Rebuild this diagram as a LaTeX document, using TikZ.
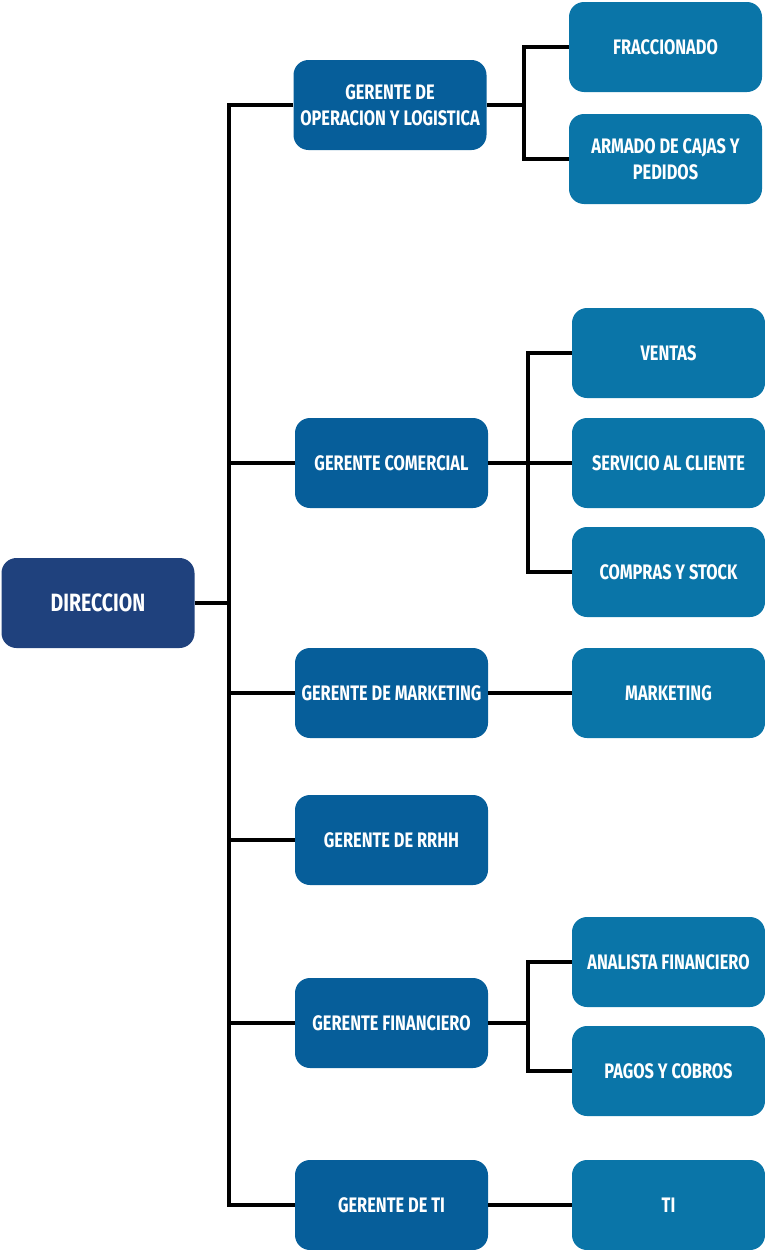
\documentclass[tikz,border=0pt]{standalone}
\usepackage{fontspec}
\setmainfont{Fira Sans}[BoldFont={Fira Sans Bold},BoldFeatures={FakeStretch=0.78}]
\definecolor{cdir}{HTML}{1F417D}
\definecolor{cger}{HTML}{065E9A}
\definecolor{csub}{HTML}{0A75A8}
\begin{document}
\begin{tikzpicture}[x=1pt,y=-1pt,
  box/.style={rectangle,rounded corners=15pt,minimum width=193pt,minimum height=90pt,inner sep=0pt,align=center,text=white,font=\bfseries\fontsize{21}{26}\selectfont},
  dirbox/.style={box,fill=cdir,font=\bfseries\fontsize{25}{28}\selectfont},
  gerbox/.style={box,fill=cger},
  subbox/.style={box,fill=csub},
  link/.style={draw=black,line width=3.2pt}]
\useasboundingbox (0,0) rectangle (765,1250);
\node[dirbox] (dir) at (98,603) {DIRECCION};
\node[gerbox] (op) at (390,105) {GERENTE DE\\OPERACION Y LOGISTICA};
\node[gerbox] (com) at (391.5,463) {GERENTE COMERCIAL};
\node[gerbox] (mkt) at (391.5,693) {GERENTE DE MARKETING};
\node[gerbox] (rrhh) at (391.5,840) {GERENTE DE RRHH};
\node[gerbox] (fin) at (391.5,1023) {GERENTE FINANCIERO};
\node[gerbox] (ti) at (391.5,1205) {GERENTE DE TI};
\node[subbox] (frac) at (665.5,47) {FRACCIONADO};
\node[subbox] (arm) at (665.5,159) {ARMADO DE CAJAS Y\\PEDIDOS};
\node[subbox] (ven) at (668.5,353) {VENTAS};
\node[subbox] (serv) at (668.5,463) {SERVICIO AL CLIENTE};
\node[subbox] (comp) at (668.5,572) {COMPRAS Y STOCK};
\node[subbox] (mk2) at (668.5,693) {MARKETING};
\node[subbox] (ana) at (668.5,962) {ANALISTA FINANCIERO};
\node[subbox] (pag) at (668.5,1071) {PAGOS Y COBROS};
\node[subbox] (ti2) at (668.5,1205) {TI};
\coordinate (t) at (229,0);
\coordinate (b1) at (524,0);
\coordinate (b2) at (528,0);
\draw[link] (dir.east) -- (dir.east -| t);
\draw[link] (op.west) -- (op.west -| t) |- (ti.west);
\foreach \n in {com,mkt,rrhh,fin} \draw[link] (t |- \n.west) -- (\n.west);
\draw[link] (op.east) -- (op.east -| b1);
\draw[link] (frac.west) -- (frac.west -| b1) |- (arm.west);
\draw[link] (com.east) -- (serv.west);
\draw[link] (ven.west) -- (ven.west -| b2) |- (comp.west);
\draw[link] (mkt.east) -- (mk2.west);
\draw[link] (fin.east) -- (fin.east -| b2);
\draw[link] (ana.west) -- (ana.west -| b2) |- (pag.west);
\draw[link] (ti.east) -- (ti2.west);
\end{tikzpicture}
\end{document}
